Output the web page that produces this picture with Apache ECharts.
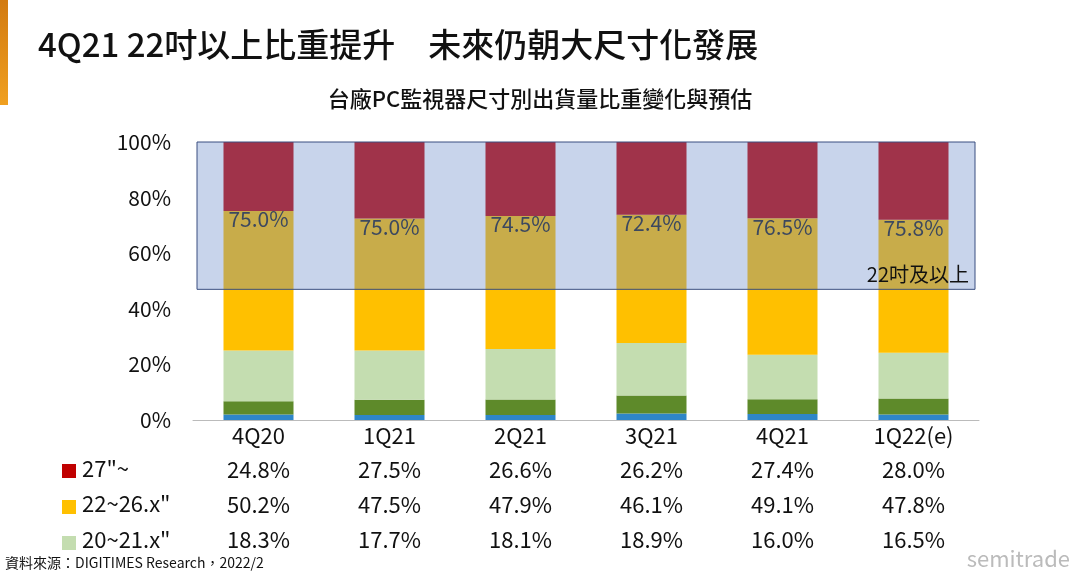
<!DOCTYPE html><html><head><meta charset="utf-8"><script src="https://cdn.jsdelivr.net/npm/echarts@6/dist/echarts.min.js"></script>
<style>body{margin:0}#c{width:1080px;height:578px}</style></head><body><div id="c"></div><script>
const categories=['4Q20','1Q21','2Q21','3Q21','4Q21','1Q22(e)'];
const s27=[24.8,27.5,26.6,26.2,27.4,28.0];
const s22=[50.2,47.5,47.9,46.1,49.1,47.8];
const s20=[18.3,17.7,18.1,18.9,16.0,16.5];
const s19=[4.7,5.5,5.6,6.5,5.3,5.7];
const sSmall=[2.0,1.8,1.8,2.3,2.2,2.0];
const share22=['75.0%','75.0%','74.5%','72.4%','76.5%','75.8%'];
const overlayRange=[47,100];
const font='"Noto Sans CJK TC","Noto Sans",sans-serif';
const f=v=>v.toFixed(1)+'%';
const chart=echarts.init(document.getElementById('c'));
const bar=(name,data,color,extra)=>Object.assign({name,type:'bar',stack:'a',data,barWidth:70,itemStyle:{color},animation:false},extra||{});
chart.setOption({
 textStyle:{fontFamily:font},
 grid:{left:193,right:101,top:142,bottom:158},
 xAxis:{type:'category',data:categories,axisTick:{show:false},axisLine:{lineStyle:{color:'#bbb'}},
  axisLabel:{interval:0,color:'#111',margin:0,formatter:(v,i)=>`{c|${v}}\n{v|${f(s27[i])}}\n{v|${f(s22[i])}}\n{v|${f(s20[i])}}`,
   rich:{c:{fontSize:22,lineHeight:32,fontFamily:font},v:{fontSize:22,lineHeight:35,fontFamily:font}}}},
 yAxis:{type:'value',min:0,max:100,interval:20,splitLine:{show:false},axisLine:{show:false},
  axisLabel:{fontSize:21,color:'#111',margin:22,formatter:v=>v+'%'}},
 graphic:[
  {type:'rect',left:0,top:0,shape:{width:8,height:105},style:{fill:new echarts.graphic.LinearGradient(0,0,0,1,[{offset:0,color:'#d27a10'},{offset:1,color:'#f0a020'}])}},
  {type:'text',left:38,top:28,style:{text:'4Q21 22吋以上比重提升　未來仍朝大尺寸化發展',fontSize:33,fontWeight:500,fill:'#111',fontFamily:font}},
  {type:'text',left:'center',top:88,style:{text:'台廠PC監視器尺寸別出貨量比重變化與預估',fontSize:22,fontWeight:500,fill:'#111',fontFamily:font}},
  {type:'rect',left:62,top:464,shape:{width:14,height:14},style:{fill:'#C00000'}},
  {type:'text',left:82,top:458,style:{text:'27"~',fontSize:22,fill:'#111',fontFamily:font}},
  {type:'rect',left:62,top:500,shape:{width:14,height:14},style:{fill:'#FFC000'}},
  {type:'text',left:82,top:493,style:{text:'22~26.x"',fontSize:22,fill:'#111',fontFamily:font}},
  {type:'rect',left:62,top:536,shape:{width:14,height:14},style:{fill:'#C4DDB0'}},
  {type:'text',left:82,top:529,style:{text:'20~21.x"',fontSize:22,fill:'#111',fontFamily:font}},
  {type:'text',left:5,top:556,style:{text:'資料來源：DIGITIMES Research，2022/2',fontSize:14,fill:'#111',fontFamily:font}},
  {type:'text',right:10,top:548,style:{text:'semitrade',fontSize:22,fill:'#bbb',fontFamily:font}}
 ],
 series:[
  bar('small',sSmall,'#2E86C8'),
  bar('19',s19,'#5E8A2A'),
  bar('20~21.x"',s20,'#C4DDB0'),
  bar('22~26.x"',s22,'#FFC000'),
  bar('27"~',s27,'#C00000',{label:{show:true,position:'bottom',distance:-2,fontSize:21,color:'#222',formatter:p=>share22[p.dataIndex]}}),
  {type:'custom',z:10,silent:true,animation:false,data:[[0,overlayRange[0],overlayRange[1]]],
   renderItem:(params,api)=>{
     const cs=params.coordSys;
     const yb=api.coord([0,api.value(1)])[1], yt=api.coord([0,api.value(2)])[1];
     return {type:'group',children:[
       {type:'rect',shape:{x:cs.x+4,y:yt,width:cs.width-8,height:yb-yt},style:{fill:'rgba(105,138,200,0.37)',stroke:'#3a4f80',lineWidth:1}},
       {type:'text',style:{x:cs.x+cs.width-10,y:yb-5,text:'22吋及以上',fontSize:20,fill:'#111',fontFamily:font,align:'right',verticalAlign:'bottom'}}
     ]};
   }}
 ]
});
</script></body></html>
